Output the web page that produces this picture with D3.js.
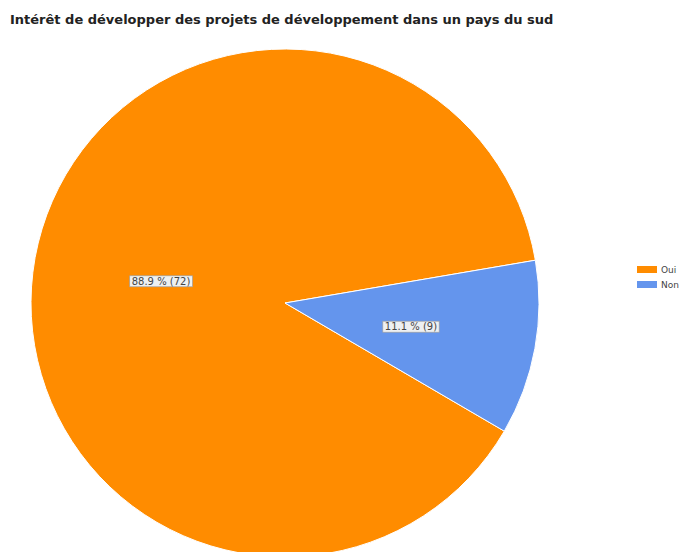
<!DOCTYPE html>
<html>
<head>
<meta charset="utf-8">
<script src="https://cdn.jsdelivr.net/npm/d3@7"></script>
<style>
  body { margin: 0; background: #fff; }
  svg { display: block; font-family: "DejaVu Sans", Verdana, sans-serif; }
</style>
</head>
<body>
<div id="chart"></div>
<script>
var title = "Intérêt de développer des projets de développement dans un pays du sud";
var categories = ["Oui", "Non"];
var counts = [72, 9];
var colors = ["#ff8c00", "#6495ed"];

var width = 684, height = 552;
var cx = 285, cy = 303, radius = 254;

var svg = d3.select("#chart")
  .append("svg")
  .attr("width", width)
  .attr("height", height);

svg.append("text")
  .attr("x", 10)
  .attr("y", 24)
  .style("font-size", "13px")
  .style("font-weight", "bold")
  .style("fill", "#222")
  .text(title);

var total = d3.sum(counts);
var data = categories.map(function (c, i) {
  return {name: c, value: counts[i], color: colors[i]};
});

// rotate so the small slice sits on the right, as in the original
var start = 120.3 * Math.PI / 180;
var pie = d3.pie()
  .sort(null)
  .value(function (d) { return d.value; })
  .startAngle(start)
  .endAngle(start + 2 * Math.PI);

var arc = d3.arc().innerRadius(0).outerRadius(radius);

var g = svg.append("g")
  .attr("transform", "translate(" + cx + "," + cy + ")");

var arcs = pie(data);

g.selectAll("path.slice")
  .data(arcs)
  .enter()
  .append("path")
  .attr("class", "slice")
  .attr("d", arc)
  .attr("fill", function (d) { return d.data.color; })
  .attr("stroke", "#fff")
  .attr("stroke-width", 1);

// value labels
var labels = g.selectAll("g.label")
  .data(arcs)
  .enter()
  .append("g")
  .attr("class", "label")
  .attr("transform", function (d) {
    var c = arc.centroid(d);
    return "translate(" + (c[0] + 1) + "," + (c[1] + 1) + ")";
  });

labels.append("text")
  .attr("text-anchor", "middle")
  .attr("dy", "0.35em")
  .style("font-size", "10px")
  .style("fill", "#444")
  .text(function (d) {
    return (d.data.value / total * 100).toFixed(1) + " % (" + d.data.value + ")";
  });

labels.each(function () {
  var grp = d3.select(this);
  var bb = grp.select("text").node().getBBox();
  grp.insert("rect", "text")
    .attr("x", bb.x - 2)
    .attr("y", bb.y)
    .attr("width", bb.width + 4)
    .attr("height", bb.height)
    .attr("fill", "#eef0f2")
    .attr("stroke", "#a0a0a0")
    .attr("stroke-width", 0.7);
});

// legend
var legend = svg.append("g")
  .attr("transform", "translate(637,266)");

var items = legend.selectAll("g")
  .data(data)
  .enter()
  .append("g")
  .attr("transform", function (d, i) { return "translate(0," + (i * 15) + ")"; });

items.append("rect")
  .attr("width", 20)
  .attr("height", 7)
  .attr("fill", function (d) { return d.color; });

items.append("text")
  .attr("x", 24)
  .attr("y", 3.5)
  .attr("dy", "0.35em")
  .style("font-size", "9px")
  .style("fill", "#444")
  .text(function (d) { return d.name; });
</script>
</body>
</html>
